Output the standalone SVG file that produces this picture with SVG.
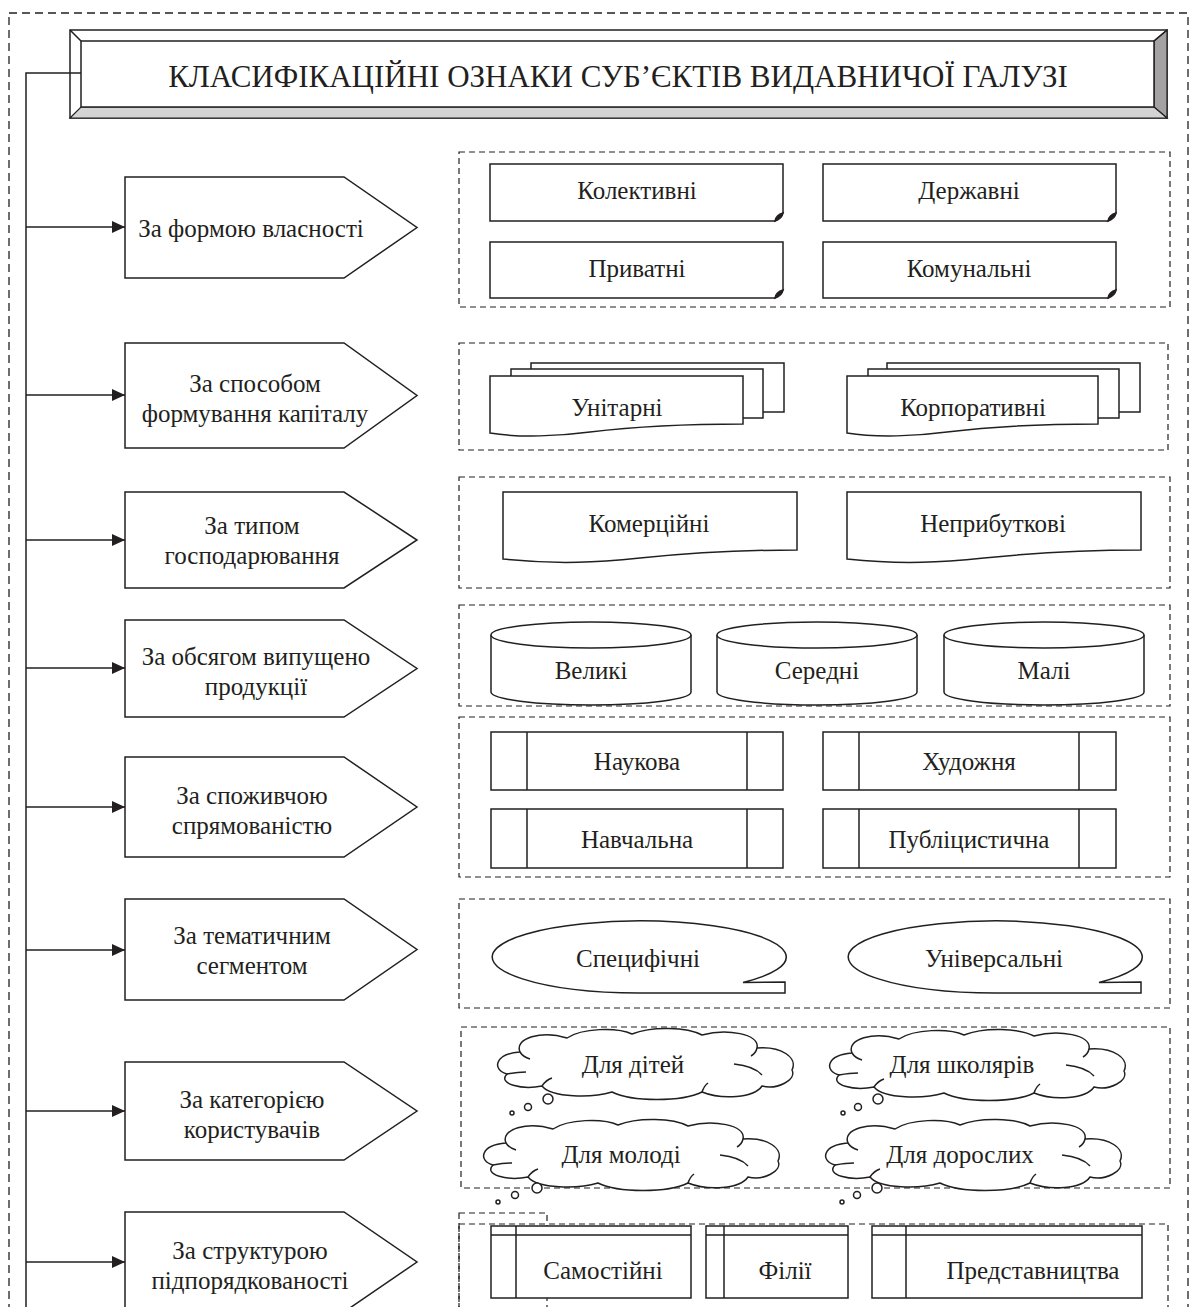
<svg xmlns="http://www.w3.org/2000/svg" xmlns:xlink="http://www.w3.org/1999/xlink" width="1192" height="1307" viewBox="0 0 1192 1307">
<style>
.t{font-family:"Liberation Serif","Times New Roman",serif;font-size:25px;fill:#231f20;text-anchor:middle;dominant-baseline:central}
.title{font-size:31px}
.s{fill:#fff;stroke:#231f20;stroke-width:1.5}
.ln{fill:none;stroke:#231f20;stroke-width:1.5}
.d{fill:none;stroke:#231f20;stroke-width:1.2;stroke-dasharray:6 4}
.od{fill:none;stroke:#231f20;stroke-width:1.3;stroke-dasharray:8 5}
</style>
<defs>
<marker id="arr" markerUnits="userSpaceOnUse" markerWidth="14" markerHeight="12" refX="13" refY="6" orient="auto">
<path d="M0,0 L13,6 L0,12 Z" fill="#231f20"/>
</marker>
<g id="cloud">
<path class="s" d="M28,24 C22,10 50,2 75,10 C90,0 125,-1 140,6 C160,-2 195,-1 210,7 C235,0 268,6 265,20 C290,18 306,30 300,42 C305,52 285,62 270,58 C262,70 230,72 210,64 C190,74 140,74 120,64 C100,70 60,70 50,58 C30,62 5,56 15,46 C0,42 2,26 28,24 Z"/>
<path class="ln" d="M15,46 Q26,44 34,44 M28,24 Q31,29 38,31 M242,36 Q262,38 270,47 M265,20 Q264,25 259,28 M50,58 Q54,52 60,50 M210,64 Q212,58 216,55"/>
</g>
</defs>

<rect class="od" x="9" y="13" width="1179" height="1310"/>

<g id="title">
<rect x="70" y="30" width="1097" height="88" fill="#fff" stroke="#231f20" stroke-width="1.5"/>
<path d="M1154,41 L1167,30 L1167,118 L1154,107 Z" fill="#a3a3a3" stroke="#231f20" stroke-width="1.2"/>
<path d="M81,107 L1154,107 L1167,118 L70,118 Z" fill="#d4d4d4" stroke="#231f20" stroke-width="1.2"/>
<path class="ln" d="M70,30 L81,41 M1167,30 L1154,41"/>
<rect x="81" y="41" width="1073" height="66" fill="#fff" stroke="#231f20" stroke-width="1.5"/>
<text class="t title" x="618" y="76">КЛАСИФІКАЦІЙНІ ОЗНАКИ СУБ’ЄКТІВ ВИДАВНИЧОЇ ГАЛУЗІ</text>
</g>

<g id="connectors">
<path class="ln" d="M81,73 H26 V1310"/>
<line class="ln" x1="26" y1="227" x2="125" y2="227" marker-end="url(#arr)"/>
<line class="ln" x1="26" y1="395" x2="125" y2="395" marker-end="url(#arr)"/>
<line class="ln" x1="26" y1="540" x2="125" y2="540" marker-end="url(#arr)"/>
<line class="ln" x1="26" y1="668" x2="125" y2="668" marker-end="url(#arr)"/>
<line class="ln" x1="26" y1="807" x2="125" y2="807" marker-end="url(#arr)"/>
<line class="ln" x1="26" y1="950" x2="125" y2="950" marker-end="url(#arr)"/>
<line class="ln" x1="26" y1="1111" x2="125" y2="1111" marker-end="url(#arr)"/>
<line class="ln" x1="26" y1="1262" x2="125" y2="1262" marker-end="url(#arr)"/>
</g>

<g id="n1"><path class="s" d="M125,177 H344 L417,227.5 L344,278 H125 Z"/><text class="t" x="251" y="228">За формою власності</text></g>
<g id="n2"><path class="s" d="M125,343 H344 L417,395.5 L344,448 H125 Z"/><text class="t" x="255" y="383">За способом</text><text class="t" x="255" y="413">формування капіталу</text></g>
<g id="n3"><path class="s" d="M125,492 H344 L417,540 L344,588 H125 Z"/><text class="t" x="252" y="525">За типом</text><text class="t" x="252" y="555">господарювання</text></g>
<g id="n4"><path class="s" d="M125,620 H344 L417,668.5 L344,717 H125 Z"/><text class="t" x="256" y="656">За обсягом випущено</text><text class="t" x="256" y="686">продукції</text></g>
<g id="n5"><path class="s" d="M125,757 H344 L417,807 L344,857 H125 Z"/><text class="t" x="252" y="795">За споживчою</text><text class="t" x="252" y="825">спрямованістю</text></g>
<g id="n6"><path class="s" d="M125,899 H344 L417,949.5 L344,1000 H125 Z"/><text class="t" x="252" y="935">За тематичним</text><text class="t" x="252" y="965">сегментом</text></g>
<g id="n7"><path class="s" d="M125,1062 H344 L417,1111 L344,1160 H125 Z"/><text class="t" x="252" y="1099">За категорією</text><text class="t" x="252" y="1129">користувачів</text></g>
<g id="n8"><path class="s" d="M125,1212 H344 L417,1262 L344,1312 H125 Z"/><text class="t" x="250" y="1250">За структурою</text><text class="t" x="250" y="1280">підпорядкованості</text></g>

<g id="g1">
<rect class="d" x="459" y="152" width="711" height="155"/>
<g id="g1a"><path class="s" d="M490,164 H783 V213 Q782,219 775,221 H490 Z"/><path d="M775,221 Q776,215 783,213 Q781,218 775,221 Z" fill="#231f20" stroke="#231f20" stroke-width="1.5"/><text class="t" x="637" y="190">Колективні</text></g>
<g id="g1b"><path class="s" d="M823,164 H1116 V213 Q1115,219 1108,221 H823 Z"/><path d="M1108,221 Q1109,215 1116,213 Q1114,218 1108,221 Z" fill="#231f20" stroke="#231f20" stroke-width="1.5"/><text class="t" x="969" y="190">Державні</text></g>
<g id="g1c"><path class="s" d="M490,242 H783 V290 Q782,296 775,298 H490 Z"/><path d="M775,298 Q776,292 783,290 Q781,295 775,298 Z" fill="#231f20" stroke="#231f20" stroke-width="1.5"/><text class="t" x="637" y="268">Приватні</text></g>
<g id="g1d"><path class="s" d="M823,242 H1116 V290 Q1115,296 1108,298 H823 Z"/><path d="M1108,298 Q1109,292 1116,290 Q1114,295 1108,298 Z" fill="#231f20" stroke="#231f20" stroke-width="1.5"/><text class="t" x="969" y="268">Комунальні</text></g>
</g>

<g id="g2">
<rect class="d" x="459" y="343" width="709" height="107"/>
<g id="g2a">
<rect class="s" x="531" y="363" width="253" height="49"/>
<rect class="s" x="511" y="369" width="252" height="49"/>
<path class="s" d="M490,376 H743 V424 C700,424 640,426 590,432 C560,436 520,438 490,433 Z"/>
<text class="t" x="617" y="407">Унітарні</text>
</g>
<g id="g2b">
<rect class="s" x="887" y="363" width="253" height="49"/>
<rect class="s" x="868" y="369" width="251" height="49"/>
<path class="s" d="M847,376 H1098 V424 C1055,424 995,426 947,432 C917,436 877,438 847,433 Z"/>
<text class="t" x="973" y="407">Корпоративні</text>
</g>
</g>

<g id="g3">
<rect class="d" x="459" y="477" width="711" height="111"/>
<g id="g3a"><path class="s" d="M503,492 H797 V550 C740,550 690,553 640,558 C600,562 560,565 503,559 Z"/><text class="t" x="649" y="523">Комерційні</text></g>
<g id="g3b"><path class="s" d="M847,492 H1141 V550 C1084,550 1034,553 984,558 C944,562 904,565 847,559 Z"/><text class="t" x="993" y="523">Неприбуткові</text></g>
</g>

<g id="g4">
<rect class="d" x="459" y="605" width="711" height="101"/>
<g id="g4a"><path class="s" d="M491,635 V692 A100,13 0 0 0 691,692 V635"/><ellipse class="s" cx="591" cy="635" rx="100" ry="13"/><text class="t" x="591" y="670">Великі</text></g>
<g id="g4b"><path class="s" d="M717,635 V692 A100,13 0 0 0 917,692 V635"/><ellipse class="s" cx="817" cy="635" rx="100" ry="13"/><text class="t" x="817" y="670">Середні</text></g>
<g id="g4c"><path class="s" d="M944,635 V692 A100,13 0 0 0 1144,692 V635"/><ellipse class="s" cx="1044" cy="635" rx="100" ry="13"/><text class="t" x="1044" y="670">Малі</text></g>
</g>

<g id="g5">
<rect class="d" x="459" y="717" width="711" height="160"/>
<g id="g5a"><rect class="s" x="491" y="732" width="292" height="58"/><path class="ln" d="M527,732 V790 M747,732 V790"/><text class="t" x="637" y="761">Наукова</text></g>
<g id="g5b"><rect class="s" x="823" y="732" width="293" height="58"/><path class="ln" d="M859,732 V790 M1079,732 V790"/><text class="t" x="969" y="761">Художня</text></g>
<g id="g5c"><rect class="s" x="491" y="809" width="292" height="59"/><path class="ln" d="M527,809 V868 M747,809 V868"/><text class="t" x="637" y="839">Навчальна</text></g>
<g id="g5d"><rect class="s" x="823" y="809" width="293" height="59"/><path class="ln" d="M859,809 V868 M1079,809 V868"/><text class="t" x="969" y="839">Публіцистична</text></g>
</g>

<g id="g6">
<rect class="d" x="459" y="899" width="711" height="109"/>
<g id="g6a"><path class="s" d="M639,993 A147,36 0 1 1 743,982.5 L785,982 L785,993 Z"/><text class="t" x="638" y="958">Специфічні</text></g>
<g id="g6b"><path class="s" d="M995,993 A147,36 0 1 1 1099,982.5 L1141,982 L1141,993 Z"/><text class="t" x="994" y="958">Універсальні</text></g>
</g>

<g id="g7">
<rect class="d" x="461" y="1027" width="709" height="161"/>
<g id="g7a"><use xlink:href="#cloud" x="492" y="1028"/><circle class="s" cx="548" cy="1099" r="5"/><circle class="s" cx="528" cy="1107" r="3.5"/><circle class="s" cx="512" cy="1113" r="2"/><text class="t" x="633" y="1064">Для дітей</text></g>
<g id="g7b"><use xlink:href="#cloud" x="824" y="1029"/><circle class="s" cx="878" cy="1099" r="5"/><circle class="s" cx="858" cy="1107" r="3.5"/><circle class="s" cx="843" cy="1113" r="2"/><text class="t" x="962" y="1064">Для школярів</text></g>
<g id="g7c"><use xlink:href="#cloud" x="478" y="1119"/><circle class="s" cx="537" cy="1188" r="5"/><circle class="s" cx="515" cy="1195" r="3.5"/><circle class="s" cx="498" cy="1202" r="2"/><text class="t" x="621" y="1154">Для молоді</text></g>
<g id="g7d"><use xlink:href="#cloud" x="820" y="1119"/><circle class="s" cx="877" cy="1188" r="5"/><circle class="s" cx="857" cy="1195" r="3.5"/><circle class="s" cx="842" cy="1202" r="2"/><text class="t" x="960" y="1154">Для дорослих</text></g>
</g>

<g id="g8">
<rect class="d" x="459" y="1213" width="88" height="110"/>
<rect class="d" x="459" y="1224" width="709" height="100"/>
<g id="g8a"><rect class="s" x="491" y="1226" width="200" height="72"/><path class="ln" d="M491,1235 H691 M516,1226 V1298"/><text class="t" x="603" y="1270">Самостійні</text></g>
<g id="g8b"><rect class="s" x="706" y="1226" width="142" height="72"/><path class="ln" d="M706,1235 H848 M724,1226 V1298"/><text class="t" x="785" y="1270">Філії</text></g>
<g id="g8c"><rect class="s" x="872" y="1226" width="270" height="72"/><path class="ln" d="M872,1235 H1142 M906,1226 V1298"/><text class="t" x="1033" y="1270">Представництва</text></g>
</g>
</svg>
